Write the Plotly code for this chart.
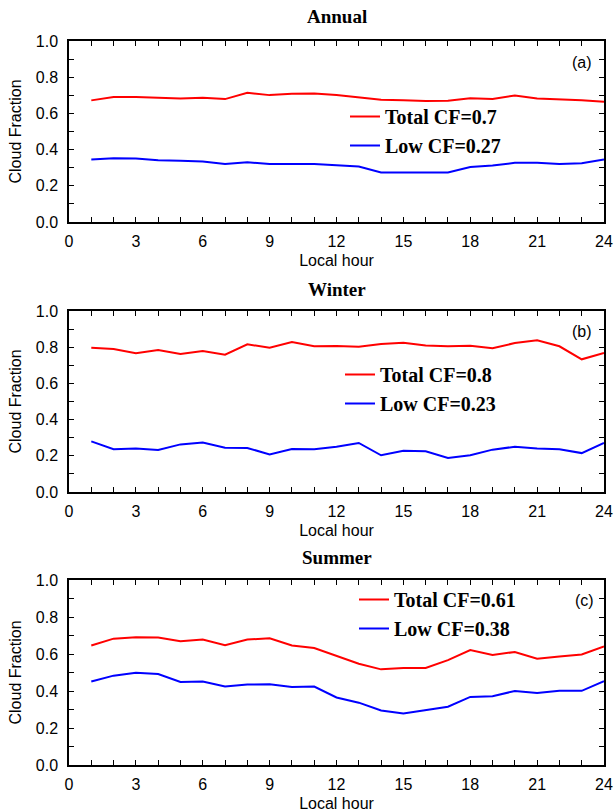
import plotly.graph_objects as go

hours = list(range(1, 25))

annual_total = [0.672, 0.690, 0.690, 0.688, 0.683, 0.686, 0.679, 0.714, 0.701, 0.708, 0.710, 0.701,
                0.686, 0.675, 0.672, 0.668, 0.670, 0.684, 0.679, 0.699, 0.683, 0.679, 0.673, 0.664]
annual_low = [0.345, 0.352, 0.351, 0.341, 0.338, 0.334, 0.321, 0.330, 0.321, 0.321, 0.321, 0.314,
              0.306, 0.273, 0.273, 0.273, 0.273, 0.304, 0.312, 0.327, 0.327, 0.321, 0.325, 0.345]

winter_total = [0.797, 0.790, 0.766, 0.785, 0.762, 0.779, 0.759, 0.816, 0.797, 0.829, 0.805, 0.807,
                0.803, 0.818, 0.825, 0.810, 0.805, 0.808, 0.794, 0.823, 0.838, 0.805, 0.733, 0.768]
winter_low = [0.280, 0.236, 0.241, 0.232, 0.263, 0.273, 0.245, 0.243, 0.208, 0.238, 0.236, 0.250,
              0.271, 0.203, 0.228, 0.225, 0.188, 0.203, 0.234, 0.250, 0.241, 0.236, 0.215, 0.271]

summer_total = [0.646, 0.683, 0.691, 0.689, 0.669, 0.678, 0.648, 0.678, 0.685, 0.646, 0.632, 0.591,
                0.547, 0.517, 0.525, 0.525, 0.567, 0.621, 0.595, 0.611, 0.575, 0.587, 0.597, 0.641]
summer_low = [0.451, 0.483, 0.499, 0.492, 0.449, 0.451, 0.425, 0.435, 0.436, 0.422, 0.424, 0.365,
              0.337, 0.295, 0.278, 0.295, 0.315, 0.368, 0.372, 0.400, 0.389, 0.401, 0.401, 0.453]

titles = ["Annual", "Winter", "Summer"]
panel_labels = ["(a)", "(b)", "(c)"]
total_names = ["Total CF=0.7", "Total CF=0.8", "Total CF=0.61"]
low_names = ["Low CF=0.27", "Low CF=0.23", "Low CF=0.38"]

x_tickvals = list(range(0, 25))
x_ticktext = [str(v) if v % 3 == 0 else "" for v in x_tickvals]
y_tickvals = [i / 10 for i in range(0, 11)]
y_ticktext = [f"{v:.1f}" if i % 2 == 0 else "" for i, v in enumerate(y_tickvals)]

W, H = 614, 812
ML, MR, MT, MB = 69, 10, 41, 812 - 765
PH = H - MT - MB
PW = W - ML - MR


def py(pix):
    return (H - MB - pix) / PH


def px(pix):
    return (pix - ML) / PW


panels = [(41, 222), (311, 492), (580, 765)]
title_gap = [25, 22, 23]
legend_pos = [(345, 97), (340, 355), (354, 580)]
label_pos = [(582, 62), (582, 331), (584, 600)]

fig = go.Figure()
series = [(annual_total, annual_low), (winter_total, winter_low), (summer_total, summer_low)]
font_sans = "Liberation Sans, Arial, sans-serif"
font_serif = "Liberation Serif, Times New Roman, serif"

for i, (tot, low) in enumerate(series):
    sfx = "" if i == 0 else str(i + 1)
    leg = "legend" if i == 0 else f"legend{i + 1}"
    fig.add_trace(go.Scatter(x=hours, y=tot, mode="lines", name=total_names[i],
                             line=dict(color="#ff0000", width=2), xaxis="x" + sfx, yaxis="y" + sfx,
                             legend=leg))
    fig.add_trace(go.Scatter(x=hours, y=low, mode="lines", name=low_names[i],
                             line=dict(color="#0000ff", width=2), xaxis="x" + sfx, yaxis="y" + sfx,
                             legend=leg))
    top, bot = panels[i]
    axcommon = dict(showline=True, linecolor="black", linewidth=1.5, mirror="ticks",
                    ticks="inside", ticklen=5, tickcolor="black", tickwidth=1,
                    showgrid=False, zeroline=False, tickmode="array",
                    tickfont=dict(family=font_sans, size=16, color="black"))
    fig.layout["xaxis" + sfx] = dict(axcommon, domain=[0, 1], range=[0, 24],
                                     tickvals=x_tickvals, ticktext=x_ticktext,
                                     anchor="y" + sfx, ticklabelstandoff=4,
                                     title=dict(text="Local hour", standoff=6,
                                                font=dict(family=font_sans, size=16, color="black")))
    fig.layout["yaxis" + sfx] = dict(axcommon, domain=[py(bot), py(top)], range=[0, 1],
                                     tickvals=y_tickvals, ticktext=y_ticktext,
                                     anchor="x" + sfx, ticklabelstandoff=6,
                                     title=dict(text="Cloud Fraction", standoff=10,
                                                font=dict(family=font_sans, size=16, color="black")))
    lx, ly = legend_pos[i]
    fig.layout[leg] = dict(x=px(lx), y=py(ly), xref="paper", yref="paper",
                           xanchor="left", yanchor="top", bgcolor="rgba(0,0,0,0)",
                           borderwidth=0, tracegroupgap=0,
                           font=dict(family=font_serif, size=20, color="black", weight="bold"))
    fig.add_annotation(text=f"<b>{titles[i]}</b>", xref="paper", yref="paper",
                       x=px(337), y=py(top - title_gap[i]), xanchor="center", yanchor="middle",
                       showarrow=False, font=dict(family=font_serif, size=19, color="black"))
    cx, cy = label_pos[i]
    fig.add_annotation(text=panel_labels[i], xref="paper", yref="paper",
                       x=px(cx), y=py(cy), xanchor="center", yanchor="middle",
                       showarrow=False, font=dict(family=font_sans, size=16, color="black"))

fig.update_layout(width=W, height=H, margin=dict(l=ML, r=MR, t=MT, b=MB, autoexpand=False),
                  paper_bgcolor="white", plot_bgcolor="white", showlegend=True)

fig.write_html("out.html", config={"displayModeBar": False},
               post_script="document.body.style.margin='0';document.body.style.overflow='hidden';")
